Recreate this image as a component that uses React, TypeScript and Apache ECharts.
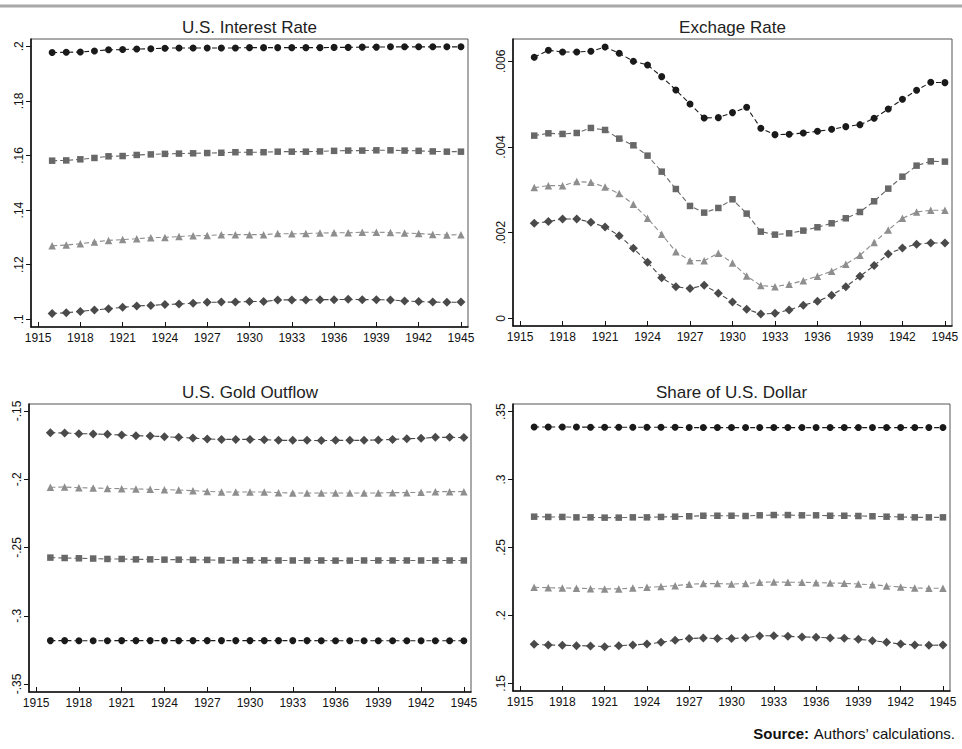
import React, { useEffect, useRef } from "react";
import * as echarts from "echarts";

const years = [1916, 1917, 1918, 1919, 1920, 1921, 1922, 1923, 1924, 1925, 1926, 1927, 1928, 1929, 1930, 1931, 1932, 1933, 1934, 1935, 1936, 1937, 1938, 1939, 1940, 1941, 1942, 1943, 1944, 1945];
const xTicks = [1915, 1918, 1921, 1924, 1927, 1930, 1933, 1936, 1939, 1942, 1945];

const titles = ["U.S. Interest Rate", "Exchage Rate", "U.S. Gold Outflow", "Share of U.S. Dollar"];

// U.S. Interest Rate
const irCircle = [.1977, .1978, .1979, .1983, .1987, .1988, .199, .1991, .1993, .1994, .1994, .1994, .1994, .1994, .1995, .1995, .1995, .1995, .1995, .1995, .1996, .1996, .1997, .1997, .1998, .1998, .1998, .1998, .1998, .1998];
const irSquare = [.1581, .1582, .1586, .1591, .1597, .1598, .1602, .1604, .1606, .1607, .1608, .1609, .161, .1612, .1612, .1612, .1614, .1614, .1614, .1615, .1617, .1618, .1618, .1619, .1619, .1618, .1617, .1615, .1614, .1614];
const irTriangle = [.1269, .1272, .1277, .1283, .1289, .1292, .1295, .1299, .13, .1303, .1306, .1307, .131, .131, .131, .131, .1314, .1313, .1314, .1316, .1317, .1317, .1319, .1319, .1318, .1316, .1314, .1311, .1309, .131];
const irDiamond = [.1021, .1024, .1029, .1034, .1039, .1044, .1049, .1051, .1054, .1056, .1059, .1062, .1063, .1063, .1065, .1065, .1071, .1071, .1071, .1072, .1072, .1073, .1072, .1072, .1071, .1067, .1065, .1063, .1062, .1063];
const irTicks = [0.1, 0.12, 0.14, 0.16, 0.18, 0.2];

// Exchange Rate
const erCircle = [.006093, .006257, .006218, .006218, .006234, .006335, .006187, .006, .005914, .005642, .005331, .005004, .004677, .004685, .004802, .004926, .004436, .004288, .004296, .004327, .004366, .004412, .004475, .004521, .004669, .004887, .005113, .005323, .00551, .005502];
const erSquare = [.004265, .004319, .004304, .004327, .004444, .004397, .004195, .004039, .003798, .003424, .003019, .002623, .002467, .002576, .002778, .002444, .002023, .001953, .001984, .002047, .002125, .002218, .002335, .002482, .002732, .003027, .003307, .003564, .003665, .003658];
const erTriangle = [.003051, .003097, .003097, .003191, .003175, .003066, .002911, .002661, .002335, .001961, .001556, .001346, .001346, .001518, .001292, .000988, .000763, .000739, .000794, .000879, .000981, .001097, .001261, .001471, .001767, .002062, .002335, .002482, .002521, .002521];
const erDiamond = [.002218, .002257, .002319, .002319, .002241, .002132, .00193, .001634, .001307, .000949, .000739, .000693, .00077, .000584, .000381, .00021, .000101, .000117, .000195, .000304, .000397, .000537, .000739, .000981, .00123, .001502, .001642, .001728, .001759, .001759];
const erTicks = [0, 0.002, 0.004, 0.006];

// U.S. Gold Outflow
const goDiamond = [-.1659, -.1661, -.1666, -.1668, -.1671, -.1676, -.1681, -.1683, -.1688, -.1693, -.1698, -.1705, -.1708, -.1708, -.1708, -.171, -.1715, -.1715, -.1715, -.1717, -.1715, -.1715, -.1715, -.1712, -.1708, -.1703, -.17, -.1693, -.1693, -.1695];
const goTriangle = [-.2059, -.2057, -.2062, -.2064, -.2067, -.2069, -.2071, -.2074, -.2076, -.2079, -.2084, -.2089, -.2093, -.2093, -.2093, -.2093, -.2098, -.2101, -.2101, -.2101, -.2101, -.2101, -.2101, -.2101, -.2098, -.2098, -.2096, -.2091, -.2091, -.2091];
const goSquare = [-.2574, -.2577, -.2579, -.2581, -.2584, -.2584, -.2587, -.2587, -.2589, -.2589, -.259, -.2591, -.2594, -.2594, -.2594, -.2594, -.2595, -.2595, -.2595, -.2595, -.2596, -.2596, -.2595, -.2595, -.2595, -.2595, -.2595, -.2595, -.2595, -.2595];
const goCircle = [-.3182, -.3182, -.3183, -.3183, -.3183, -.3182, -.3182, -.3182, -.3182, -.3182, -.3182, -.3182, -.3182, -.3182, -.3182, -.3182, -.3182, -.3182, -.3182, -.3183, -.3183, -.3183, -.3183, -.3183, -.3183, -.3183, -.3183, -.3183, -.3183, -.3183];
const goTicks = [-0.35, -0.3, -0.25, -0.2, -0.15];

// Share of U.S. Dollar
const sdCircle = [.3387, .3387, .3387, .3387, .3386, .3386, .3386, .3386, .3385, .3385, .3385, .3383, .3383, .3383, .3383, .3383, .3383, .3383, .3383, .3383, .3383, .3383, .3383, .3383, .3383, .3383, .3383, .3383, .3383, .3383];
const sdSquare = [.2727, .2725, .2725, .2722, .2722, .272, .272, .2722, .2722, .2725, .2727, .273, .2734, .2734, .2734, .2732, .2737, .2739, .2739, .2737, .2737, .2734, .2734, .2732, .273, .2727, .2725, .2722, .2722, .2722];
const sdTriangle = [.2207, .2204, .2202, .22, .2197, .2195, .2195, .2202, .2207, .2212, .2219, .2229, .2234, .2234, .2231, .2234, .2244, .2246, .2244, .2244, .2241, .2239, .2236, .2231, .2226, .2217, .2209, .2202, .22, .22];
const sdDiamond = [.1787, .1782, .178, .1777, .1775, .177, .1777, .1782, .1789, .1802, .1817, .1829, .1834, .1829, .1829, .1836, .1849, .1851, .1846, .1841, .1839, .1834, .1831, .1824, .1814, .1802, .1789, .1782, .178, .1782];
const sdTicks = [0.15, 0.2, 0.25, 0.3, 0.35];

const FONT = "'Liberation Sans', Arial, Helvetica, sans-serif";

const styles: Record<string, { symbol: string; size: number; color: string }> = {
  circle: { symbol: "circle", size: 7, color: "#1a1a1a" },
  square: { symbol: "rect", size: 6.5, color: "#686868" },
  triangle: { symbol: "triangle", size: 7.5, color: "#8e8e8e" },
  diamond: { symbol: "diamond", size: 9, color: "#4a4a4a" },
};

function fmt(v: number): string {
  const s = String(Number(v.toFixed(6)));
  return s.replace(/^(-?)0\./, "$1.");
}

export default function App() {
  const ref = useRef<HTMLDivElement>(null);
  useEffect(() => {
    if (!ref.current) return;
    const chart = echarts.init(ref.current, null, { renderer: "svg" });

    const panels = [
      { grid: { left: 31, top: 39, width: 437, height: 288 }, ymin: 0.09718, ymax: 0.20267, ticks: irTicks,
        data: { circle: irCircle, square: irSquare, triangle: irTriangle, diamond: irDiamond } },
      { grid: { left: 513, top: 39, width: 439, height: 287 }, ymin: -0.00018, ymax: 0.006521, ticks: erTicks,
        data: { circle: erCircle, square: erSquare, triangle: erTriangle, diamond: erDiamond } },
      { grid: { left: 29, top: 404, width: 442, height: 288 }, ymin: -0.35586, ymax: -0.14487, ticks: goTicks,
        data: { circle: goCircle, square: goSquare, triangle: goTriangle, diamond: goDiamond } },
      { grid: { left: 513, top: 404, width: 437, height: 287 }, ymin: 0.14433, ymax: 0.35567, ticks: sdTicks,
        data: { circle: sdCircle, square: sdSquare, triangle: sdTriangle, diamond: sdDiamond } },
    ];

    const grids = panels.map((p) => ({
      ...p.grid,
      show: true,
      borderColor: "#555",
      borderWidth: 1,
      backgroundColor: "transparent",
      containLabel: false,
    }));

    const xAxes = panels.map((_p, i) => ({
      type: "value",
      gridIndex: i,
      min: 1914.5,
      max: 1945.5,
      splitLine: { show: false },
      axisLine: { show: true, onZero: false, lineStyle: { color: "#111", width: 1.6 } },
      axisTick: { show: true, inside: true, length: 5, customValues: xTicks, lineStyle: { color: "#111", width: 1 } },
      axisLabel: { show: true, customValues: xTicks, margin: 5, fontSize: 12, color: "#111", fontFamily: FONT, formatter: (v: number) => String(v) },
    }));

    const yAxes = panels.map((p, i) => ({
      type: "value",
      gridIndex: i,
      min: p.ymin,
      max: p.ymax,
      splitLine: { show: false },
      axisLine: { show: true, onZero: false, lineStyle: { color: "#111", width: 1.6 } },
      axisTick: { show: true, inside: false, length: 5, customValues: p.ticks, lineStyle: { color: "#111", width: 1 } },
      axisLabel: { show: true, customValues: p.ticks, rotate: 90, margin: 6, fontSize: 12, color: "#111", fontFamily: FONT, formatter: (v: number) => fmt(v) },
    }));

    const series: any[] = [];
    panels.forEach((p, i) => {
      (["circle", "square", "triangle", "diamond"] as const).forEach((k) => {
        const st = styles[k];
        const vals = (p.data as any)[k] as number[];
        series.push({
          type: "line",
          xAxisIndex: i,
          yAxisIndex: i,
          data: years.map((y, j) => [y, vals[j]]),
          symbol: st.symbol,
          symbolSize: st.size,
          showSymbol: true,
          lineStyle: { color: st.color, width: 1.1, type: [5, 3] },
          itemStyle: { color: st.color, borderWidth: 0 },
          emphasis: { disabled: true },
          silent: true,
        });
      });
    });

    const titleGraphics = panels.map((p, i) => ({
      type: "text",
      x: p.grid.left + p.grid.width / 2,
      y: i < 2 ? 27 : 392,
      style: {
        text: titles[i],
        fontSize: 17,
        fontFamily: FONT,
        fill: "#222",
        textAlign: "center",
        textVerticalAlign: "middle",
      },
    }));

    chart.setOption({
      animation: false,
      backgroundColor: "#ffffff",
      grid: grids,
      xAxis: xAxes,
      yAxis: yAxes,
      series,
      graphic: [
        { type: "rect", shape: { x: 0, y: 4.5, width: 962, height: 3 }, style: { fill: "#a8a8a8" } },
        ...titleGraphics,
        {
          type: "text",
          x: 955,
          y: 733,
          style: {
            text: "{b|Source:} Authors\u2019 calculations.",
            fontSize: 15,
            fontFamily: FONT,
            fill: "#111",
            textAlign: "right",
            textVerticalAlign: "middle",
            rich: { b: { fontWeight: "bold", fontSize: 15, fontFamily: FONT, fill: "#111" } },
          },
        },
      ],
    });
    return () => chart.dispose();
  }, []);

  return (
    <div
      ref={ref}
      style={{ position: "absolute", left: 0, top: 0, width: "962px", height: "749px", background: "#fff" }}
    />
  );
}
